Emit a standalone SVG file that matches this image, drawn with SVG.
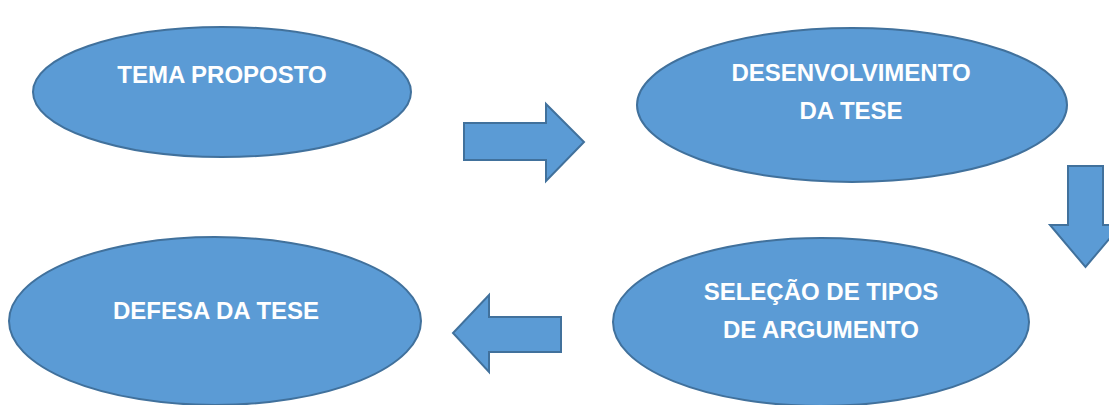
<svg xmlns="http://www.w3.org/2000/svg" width="1109" height="405" viewBox="0 0 1109 405">
<style>
.shape{fill:#5B9BD5;stroke:#41719C;stroke-width:2}
.lbl{fill:#FFFFFF;font-family:"Liberation Sans",Arial,sans-serif;font-weight:bold;font-size:24px;text-anchor:middle}
</style>
<rect width="1109" height="405" fill="#FFFFFF"/>
<g id="connectors">
<path class="shape" d="M464,123 H546 V104 L584,142 L546,181 V160 H464 Z"/>
<path class="shape" d="M1068,166 H1103 V225 H1121 L1085.5,267 L1050,225 H1068 Z"/>
<path class="shape" d="M561,317 H489 V295 L453,333 L489,372 V352 H561 Z"/>
</g>
<g id="tema-proposto">
<ellipse class="shape" cx="222" cy="92" rx="189" ry="65"/>
<text class="lbl" x="222" y="83">TEMA PROPOSTO</text>
</g>
<g id="desenvolvimento">
<ellipse class="shape" cx="852" cy="105" rx="215" ry="77"/>
<text class="lbl" x="851" y="81">DESENVOLVIMENTO</text>
<text class="lbl" x="851" y="119">DA TESE</text>
</g>
<g id="selecao">
<ellipse class="shape" cx="821" cy="322" rx="208" ry="84"/>
<text class="lbl" x="821" y="300">SELEÇÃO DE TIPOS</text>
<text class="lbl" x="821" y="338">DE ARGUMENTO</text>
</g>
<g id="defesa">
<ellipse class="shape" cx="215" cy="321" rx="206" ry="84"/>
<text class="lbl" x="216" y="319">DEFESA DA TESE</text>
</g>
</svg>
